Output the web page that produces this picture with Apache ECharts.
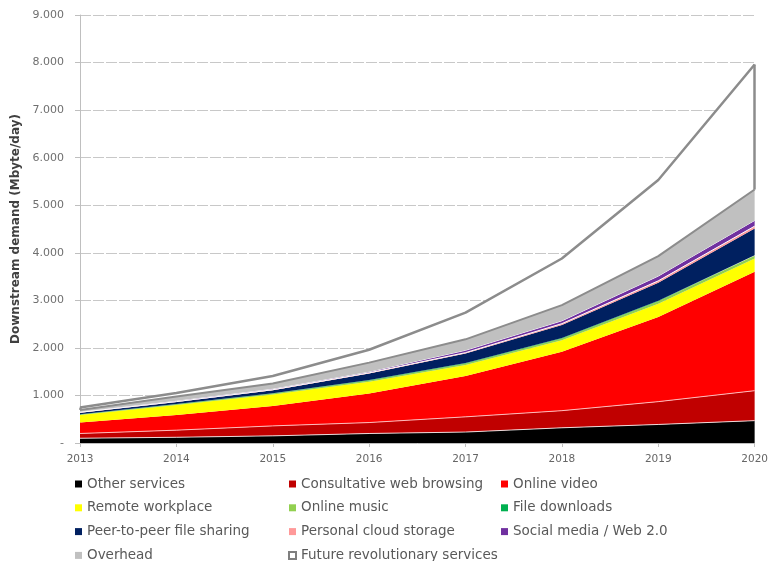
<!DOCTYPE html>
<html>
<head>
<meta charset="utf-8">
<script src="https://cdn.jsdelivr.net/npm/echarts@6/dist/echarts.min.js"></script>
<style>html,body{margin:0;padding:0;background:#fff}#c{width:771px;height:561px}</style>
</head>
<body>
<div id="c"></div>
<script>
const years = ['2013','2014','2015','2016','2017','2018','2019','2020'];
const otherServices   = [100, 120, 150, 200, 230, 320, 390, 470];
const consultativeWeb = [100, 150, 210, 230, 320, 360, 480, 630];
const onlineVideo     = [230, 320, 420, 610, 860, 1240, 1780, 2500];
const remoteWorkplace = [160, 210, 240, 250, 230, 240, 280, 280];
const onlineMusic     = [10, 15, 20, 25, 30, 40, 50, 60];
const fileDownloads   = [5, 5, 5, 10, 10, 10, 10, 10];
const peerToPeer      = [30, 40, 65, 135, 200, 270, 380, 560];
const personalCloud   = [10, 10, 10, 15, 20, 30, 40, 50];
const socialMedia     = [10, 20, 20, 25, 50, 60, 100, 120];
const overhead        = [40, 90, 110, 190, 230, 330, 420, 650];
const futureServices  = [50, 70, 160, 270, 560, 980, 1600, 2630];

const layers = [
  ['Other services', otherServices, '#000000', {color:'rgba(255,255,255,0.8)', width:1}],
  ['Consultative web browsing', consultativeWeb, '#c00000', {color:'rgba(255,200,200,0.9)', width:1}],
  ['Online video', onlineVideo, '#ff0000', {width:0}],
  ['Remote workplace', remoteWorkplace, '#ffff00', {width:0}],
  ['Online music', onlineMusic, '#92d050', {width:0}],
  ['File downloads', fileDownloads, '#00b050', {width:0}],
  ['Peer-to-peer file sharing', peerToPeer, '#002060', {width:0}],
  ['Personal cloud storage', personalCloud, '#ff9999', {color:'#ffffff', width:1}],
  ['Social media / Web 2.0', socialMedia, '#7030a0', {color:'#ffffff', width:1}],
  ['Overhead', overhead, '#c0c0c0', {color:'#8c8c8c', width:2}]
];

const series = layers.map((l, i) => ({
  name: l[0], type: 'line', stack: 'total', data: l[1],
  symbol: 'none', showSymbol: false,
  itemStyle: {color: l[2]},
  areaStyle: {color: l[2], opacity: 1},
  lineStyle: Object.assign({opacity: 1}, l[3]),
  z: i === 9 ? 5 : 2
}));

const cumBelowFuture = years.map((y, i) => layers.reduce((s, l) => s + l[1][i], 0));
const last = years.length - 1;
series.push({
  name: 'Future revolutionary services', type: 'line', stack: 'total', data: futureServices,
  symbol: 'none', showSymbol: false,
  itemStyle: {color: '#ffffff', borderColor: '#8c8c8c', borderWidth: 2},
  areaStyle: {color: '#ffffff', opacity: 1},
  lineStyle: {color: '#8c8c8c', width: 2.5},
  z: 3,
  markLine: {
    silent: true, symbol: 'none', label: {show: false},
    lineStyle: {color: '#8c8c8c', width: 2.5, type: 'solid'},
    data: [
      [{coord: [years[last], cumBelowFuture[last]]}, {coord: [years[last], cumBelowFuture[last] + futureServices[last]]}],
      [{coord: [years[0], cumBelowFuture[0]]}, {coord: [years[0], cumBelowFuture[0] + futureServices[0]]}]
    ]
  }
});

const legendText = {color: '#595959', fontSize: 13.5, fontFamily: 'DejaVu Sans'};
function mkLegend(left, names) {
  return {
    orient: 'vertical', left: left, top: 477, height: 120, padding: 0, itemGap: 9.8,
    itemWidth: 7, itemHeight: 7,
    icon: 'rect', textStyle: legendText, selectedMode: false,
    data: names.map(n => n === 'Future revolutionary services'
      ? {name: n, itemStyle: {color: '#ffffff', borderColor: '#7f7f7f', borderWidth: 2}}
      : {name: n})
  };
}

const chart = echarts.init(document.getElementById('c'), null, {renderer: 'canvas'});
chart.setOption({
  animation: false,
  backgroundColor: '#ffffff',
  textStyle: {fontFamily: 'DejaVu Sans'},
  grid: {left: 80, right: 14, top: 15, bottom: 118, containLabel: false},
  legend: [
    mkLegend(75, ['Other services', 'Remote workplace', 'Peer-to-peer file sharing', 'Overhead']),
    mkLegend(288, ['Consultative web browsing', 'Online music', 'Personal cloud storage', 'Future revolutionary services']),
    mkLegend(501, ['Online video', 'File downloads', 'Social media / Web 2.0'])
  ],
  xAxis: {
    type: 'category', data: years, boundaryGap: false,
    axisLine: {lineStyle: {color: '#bfbfbf', width: 1}},
    axisTick: {show: true, length: 4, lineStyle: {color: '#bfbfbf'}},
    axisLabel: {color: '#666666', fontSize: 10.5, margin: 11, fontFamily: 'DejaVu Sans'},
    splitLine: {show: false}
  },
  yAxis: {
    type: 'value', min: 0, max: 9000, interval: 1000,
    name: 'Downstream demand (Mbyte/day)', nameLocation: 'middle', nameGap: 57,
    nameTextStyle: {color: '#404040', fontSize: 12, fontWeight: 'bold', fontFamily: 'DejaVu Sans'},
    axisLine: {show: true, lineStyle: {color: '#bfbfbf', width: 1}},
    axisTick: {show: true, length: 5, lineStyle: {color: '#bfbfbf'}},
    axisLabel: {color: '#6f6f6f', fontSize: 11, margin: 16, fontFamily: 'DejaVu Sans',
      formatter: v => v === 0 ? '-' : (v / 1000).toFixed(3)},
    splitLine: {show: true, lineStyle: {color: '#c8c8c8', width: 1, type: [11, 2]}}
  },
  series: series
});
</script>
</body>
</html>
